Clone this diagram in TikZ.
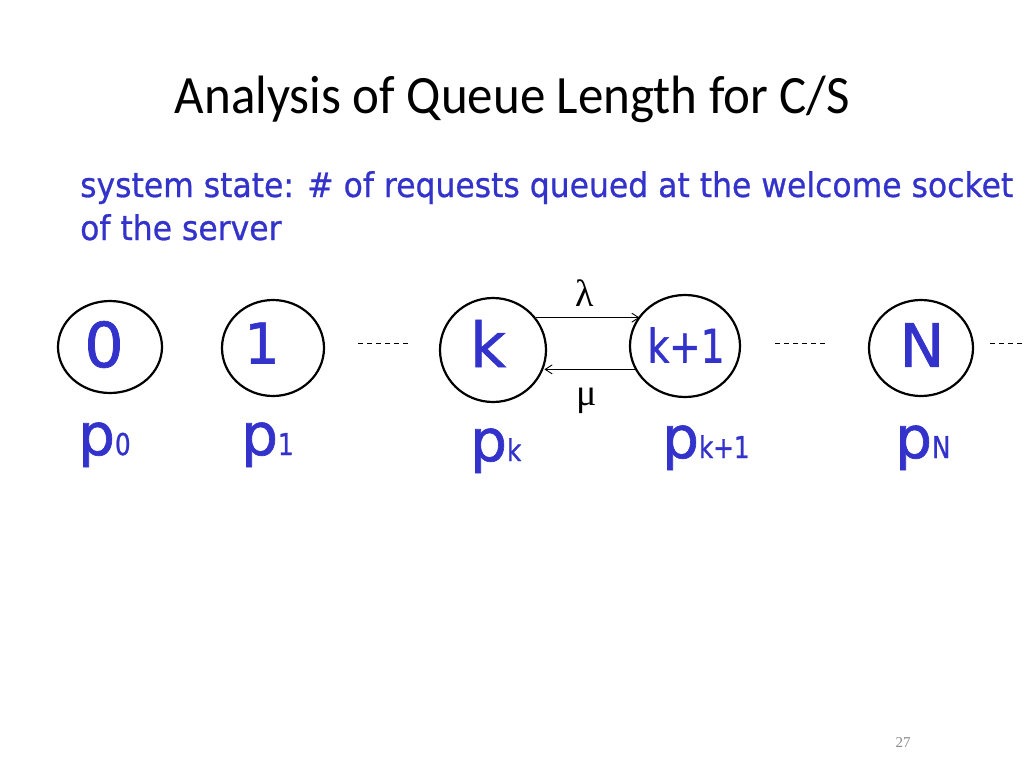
\documentclass[tikz,border=0pt]{standalone}
\usepackage{fontspec}
\usepackage{graphicx}
\usetikzlibrary{shapes.geometric,arrows.meta,calc}
\setmainfont{Liberation Serif}
\newfontfamily\titlefont{Carlito}
\newfontfamily\cf[FakeBold=1.2]{DejaVu Sans}
\newfontfamily\cfs[FakeBold=0.8]{DejaVu Sans}
\newfontfamily\gk{Liberation Serif}
\definecolor{qblue}{RGB}{51,51,204}
\definecolor{pgnum}{RGB}{137,137,137}
\newcommand\fs[1]{\fontsize{#1}{#1}\selectfont}
\newcommand\plab[1]{{\fs{58}p}{\fs{30}\scalebox{0.82}[1]{#1}}}
\begin{document}
\begin{tikzpicture}[x=1pt,y=-1pt,
  state/.style={draw=black,line width=2.2pt,ellipse,inner sep=0pt},
  stxt/.style={inner sep=0pt,text=qblue,font=\cf},
  prob/.style={inner sep=0pt,anchor=base west,text=qblue,font=\cf},
  rate/.style={inner sep=0pt,font=\gk\fs{38}},
  trans/.style={line width=0.9pt,-{Straight Barb[length=7pt,width=9pt]}},
  dots/.style={line width=0.9pt,dash pattern=on 5pt off 4pt}]
\useasboundingbox (0,0) rectangle (1024,768);
\fill[white] (0,0) rectangle (1024,768);

% title
\node[anchor=base,inner sep=0pt,font=\titlefont\fs{54}] (title) at (512.5,113) {\resizebox{675pt}{\height}{Analysis of Queue Length for C/S}};

% subtitle
\node[anchor=base west,inner sep=0pt,text=qblue,font=\cfs\fontsize{34}{43}\selectfont] (sub) at (80,197)
  {\resizebox{933pt}{\height}{\begin{tabular}[t]{@{}l@{}}system state: \# of requests queued at the welcome socket\\of the server\end{tabular}}};

% states
\node[state,minimum width=104pt,minimum height=92pt] (s0) at (110,347) {};
\node[state,minimum width=102pt,minimum height=96pt] (s1) at (273,348) {};
\node[state,minimum width=106pt,minimum height=104pt] (sk) at (493,350) {};
\node[state,minimum width=110pt,minimum height=102pt] (sk1) at (685,346) {};
\node[state,minimum width=104pt,minimum height=96pt] (sN) at (921,348) {};

\node[stxt,font=\cf\fs{62}] (t0) at (104,344.5) {0};
\node[stxt,font=\cf\fs{56}] (t1) at (262,343) {1};
\node[stxt,font=\cf\fs{62}] (tk) at (488,343.5) {k};
\node[stxt,font=\cf\fs{46}] (tk1) at (686,345) {\resizebox{77pt}{\height}{k+1}};
\node[stxt,font=\cf\fs{60}] (tN) at (922,345) {N};

% transitions
\draw[trans] (sk.37) -- (sk.37 -| sk1.146);
\draw[trans] (sk1.205) -- (sk1.205 -| sk.342);
\node[rate] (lam) at (585,293.5) {λ};
\node[rate] (mu) at (587,401) {μ};

% dashed continuations
\coordinate (d1a) at (358,343); \coordinate (d1b) at (410,343);
\coordinate (d2a) at (775,343); \coordinate (d2b) at (828,343);
\coordinate (d3a) at (990,343); \coordinate (d3b) at (1030,343);
\draw[dots] (d1a) -- (d1b);
\draw[dots] (d2a) -- (d2b);
\draw[dots] (d3a) -- (d3b);

% probabilities
\node[prob] (p0) at (78,455) {\plab{0}};
\node[prob] (p1) at (241,455) {\plab{1}};
\node[prob] (pk) at (470,461) {\plab{k}};
\node[prob] (pk1) at (662,458) {\plab{k+1}};
\node[prob] (pN) at (895,458) {\plab{N}};

% page number
\node[inner sep=0pt,text=pgnum,font=\gk\fs{15}] (pg) at (903,743) {27};
\end{tikzpicture}
\end{document}
